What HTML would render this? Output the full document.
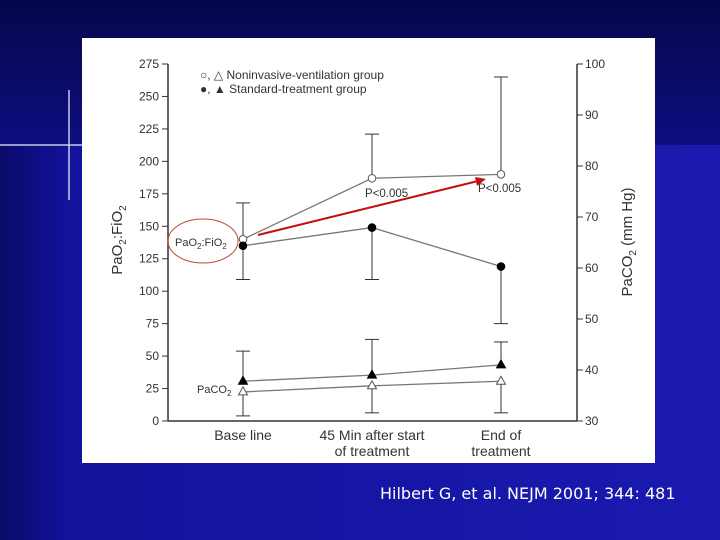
<!DOCTYPE html>
<html><head><meta charset="utf-8"><style>
body{margin:0;width:720px;height:540px;overflow:hidden;font-family:"Liberation Sans",sans-serif;
background:linear-gradient(90deg,#0a0a6a 0,#12129a 68px,#1a1ab0 100%);position:relative}
#top{position:absolute;left:0;top:0;width:720px;height:145px;background:linear-gradient(180deg,#06064a,#0e0e80)}
#panel{position:absolute;left:82px;top:38px;width:573px;height:425px;background:#fff}
#cite{position:absolute;left:380px;top:484px;color:#fff;font-family:"DejaVu Sans",sans-serif;font-size:16px;white-space:nowrap}
svg{position:absolute;left:0;top:0}
</style></head><body>
<div id="top"></div>
<svg width="720" height="540">
<line x1="0" y1="145" x2="140" y2="145" stroke="#dde" stroke-width="1.5" opacity="0.9"/>
<line x1="69" y1="90" x2="69" y2="200" stroke="#dde" stroke-width="1.5" opacity="0.9"/>
</svg>
<div id="panel"></div>
<svg id="chart" width="720" height="540" font-family="Liberation Sans, sans-serif"></svg>
<div id="cite">Hilbert G, et al. NEJM 2001; 344: 481</div>
<script>
const categories=["Base line","45 Min after start|of treatment","End of|treatment"];
const leftTicks=[0,25,50,75,100,125,150,175,200,225,250,275];
const rightTicks=[30,40,50,60,70,80,90,100];
const nivPaO2=[140,187,190];
const nivPaO2Upper=[168,221,265];
const stdPaO2=[135,149,119];
const stdPaO2Lower=[109,109,75];
const nivPaCO2=[35.7,36.9,37.8];
const nivPaCO2Lower=[31,31.6,31.6];
const stdPaCO2=[37.8,39,41];
const stdPaCO2Upper=[43.7,46,45.5];

const svg=document.getElementById('chart');const NS='http://www.w3.org/2000/svg';
function el(t,a,txt){const e=document.createElementNS(NS,t);for(const k in a)e.setAttribute(k,a[k]);if(txt!==undefined)e.textContent=txt;svg.appendChild(e);return e;}
const X0=168,X1=577,Y0=421,Y1=64;
const xs=i=>243+i*129;
const yL=v=>Y0-(v/275)*(Y0-Y1);
const yR=v=>Y0-((v-30)/70)*(Y0-Y1);
let e;
e=el('line',{x1:X0,y1:Y0,x2:X1,y2:Y0,stroke:'#333','stroke-width':1.5});

e=el('line',{x1:X0,y1:Y0,x2:X0,y2:Y1,stroke:'#333','stroke-width':1.5});

e=el('line',{x1:X1,y1:Y0,x2:X1,y2:Y1,stroke:'#333','stroke-width':1.5});

leftTicks.forEach(v=>{el('line',{x1:X0-6,y1:yL(v),x2:X0,y2:yL(v),stroke:'#333'});
e=el('text',{x:X0-9,y:yL(v)+4,'text-anchor':'end','font-size':12,fill:'#333'},v);
});
rightTicks.forEach(v=>{el('line',{x1:X1,y1:yR(v),x2:X1+6,y2:yR(v),stroke:'#333'});
e=el('text',{x:X1+8,y:yR(v)+4,'font-size':12,fill:'#333'},v);
});
categories.forEach((c,i)=>{c.split('|').forEach((l,j)=>{e=el('text',{x:xs(i),y:440+j*16,'text-anchor':'middle','font-size':14,fill:'#333'},l);
});});
e=el('text',{x:0,y:0,transform:'translate(122,240) rotate(-90)','text-anchor':'middle','font-size':15,fill:'#333'});
e.innerHTML='PaO<tspan font-size="10" dy="4">2</tspan><tspan dy="-4">:FiO</tspan><tspan font-size="10" dy="4">2</tspan>';

e=el('text',{x:0,y:0,transform:'translate(632,242) rotate(-90)','text-anchor':'middle','font-size':15,fill:'#333'});
e.innerHTML='PaCO<tspan font-size="10" dy="4">2</tspan><tspan dy="-4"> (mm Hg)</tspan>';

function errbar(x,y1,y2){el('line',{x1:x,y1:y1,x2:x,y2:y2,stroke:'#333'});el('line',{x1:x-7,y1:y2,x2:x+7,y2:y2,stroke:'#333'});}
function series(vals,bounds,yf,name,filled,tri){
 vals.forEach((v,i)=>errbar(xs(i),yf(v),yf(bounds[i])));
 e=el('polyline',{points:vals.map((v,i)=>xs(i)+','+yf(v)).join(' '),fill:'none',stroke:'#777','stroke-width':1.3});
 
 vals.forEach((v,i)=>{const x=xs(i),y=yf(v);
  if(tri)e=el('polygon',{points:`${x},${y-5} ${x-4.5},${y+3} ${x+4.5},${y+3}`,fill:filled?'#000':'#fff',stroke:filled?'#000':'#555'});
  else e=el('circle',{cx:x,cy:y,r:3.8,fill:filled?'#000':'#fff',stroke:filled?'#000':'#555'});
  });
}
series(nivPaO2,nivPaO2Upper,yL,'niv-pao2-fio2',false,false);
series(stdPaO2,stdPaO2Lower,yL,'std-pao2-fio2',true,false);
series(stdPaCO2,stdPaCO2Upper,yR,'std-paco2',true,true);
series(nivPaCO2,nivPaCO2Lower,yR,'niv-paco2',false,true);
e=el('text',{x:200,y:79,'font-size':12,fill:'#333'},'○, △  Noninvasive-ventilation group');
e=el('text',{x:200,y:93,'font-size':12,fill:'#333'},'●, ▲  Standard-treatment group');
e=el('text',{x:365,y:197,'font-size':11.5,fill:'#333'},'P<0.005');
e=el('text',{x:478,y:192,'font-size':11.5,fill:'#333'},'P<0.005');
e=el('text',{x:175,y:246,'font-size':11,fill:'#333'});e.innerHTML='PaO<tspan font-size="8" dy="3">2</tspan><tspan dy="-3">:FiO</tspan><tspan font-size="8" dy="3">2</tspan>';

e=el('text',{x:197,y:393,'font-size':11,fill:'#333'});e.innerHTML='PaCO<tspan font-size="8" dy="3">2</tspan>';

e=el('ellipse',{cx:203,cy:241,rx:35,ry:22,fill:'none',stroke:'#b85030','stroke-width':1});

e=el('line',{x1:258,y1:235,x2:478,y2:181,stroke:'#c01010','stroke-width':2});

el('polygon',{points:'486,179 475,177 477,186',fill:'#c01010'});
</script>
</body></html>
